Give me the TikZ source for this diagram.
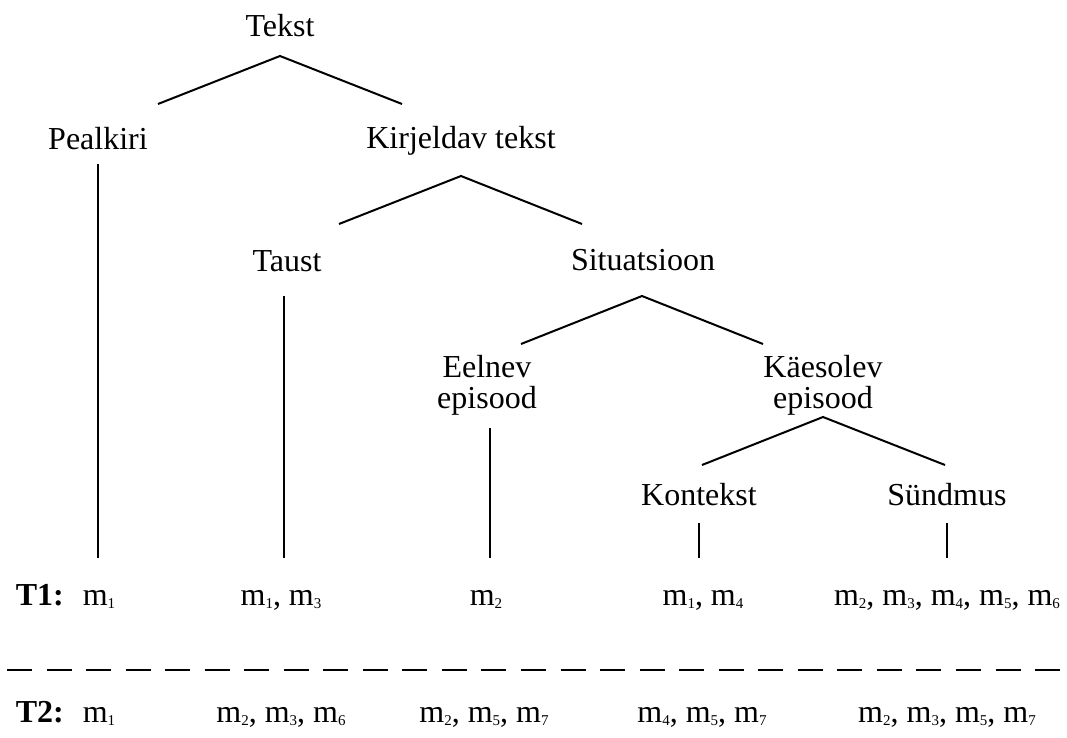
\documentclass[tikz,border=0pt]{standalone}
\usepackage{fontspec}
\setmainfont{Liberation Serif}
\usetikzlibrary{calc}
% m with a small lowered index
\newcommand{\msub}[1]{m\raisebox{-3pt}{\fontsize{15}{15}\selectfont #1}}
\newcommand{\twoline}[2]{\begin{tabular}[t]{@{}c@{}}#1\\#2\end{tabular}}
\begin{document}
\begin{tikzpicture}[x=1pt,y=-1pt,
  lbl/.style={inner sep=0pt, anchor=base, font=\fontsize{32}{30}\selectfont},
  rowlbl/.style={inner sep=0pt, anchor=base east, font=\fontsize{32}{30}\selectfont\bfseries},
  edge/.style={line width=2pt},
  sepline/.style={line width=2.6pt, dash pattern=on 25pt off 14.54pt}]
\useasboundingbox (0,0) rectangle (1067,738);

% tree labels
\node[lbl] (tekst) at (280,37) {Tekst};
\node[lbl] (peal)  at (98,150) {Pealkiri};
\node[lbl] (kirj)  at (461,149) {Kirjeldav tekst};
\node[lbl] (taust) at (287,271) {Taust};
\node[lbl] (sit)   at (643,270) {Situatsioon};
\node[lbl] (eel)   at (487,377) {\twoline{Eelnev}{episood}};
\node[lbl] (kae)   at (823,377) {\twoline{Käesolev}{episood}};
\node[lbl] (kont)  at (699,505) {Kontekst};
\node[lbl] (sund)  at (947,505) {Sündmus};

% row T1
\node[rowlbl] (t1) at (64,605) {T1:};
\node[lbl] (a1) at (99,605)  {\msub{1}};
\node[lbl] (a2) at (281,605) {\msub{1}, \msub{3}};
\node[lbl] (a3) at (486,605) {\msub{2}};
\node[lbl] (a4) at (703,605) {\msub{1}, \msub{4}};
\node[lbl] (a5) at (947,605) {\msub{2}, \msub{3}, \msub{4}, \msub{5}, \msub{6}};

% row T2
\node[rowlbl] (t2) at (64,722) {T2:};
\node[lbl] (b1) at (99,722)  {\msub{1}};
\node[lbl] (b2) at (281,722) {\msub{2}, \msub{3}, \msub{6}};
\node[lbl] (b3) at (484,722) {\msub{2}, \msub{5}, \msub{7}};
\node[lbl] (b4) at (702,722) {\msub{4}, \msub{5}, \msub{7}};
\node[lbl] (b5) at (947,722) {\msub{2}, \msub{3}, \msub{5}, \msub{7}};

% branching edges
\draw[edge] ($(peal.base)+(60,-46)$) -- ($(tekst.base)+(0,19)$) -- ($(kirj.base)+(-59,-45)$);
\draw[edge] ($(taust.base)+(52,-47)$) -- ($(kirj.base)+(0,27)$) -- ($(sit.base)+(-61,-46)$);
\draw[edge] ($(eel.base)+(34,-33)$) -- ($(sit.base)+(-1,26)$) -- ($(kae.base)+(-60,-33)$);
\draw[edge] ($(kont.base)+(3,-40)$) -- ($(kae.base)+(0,40)$) -- ($(sund.base)+(-2,-40)$);

% leaf edges down to row T1
\draw[edge] ($(peal.base)+(0,14)$)  -- ($(peal.base |- a1.base)+(0,-47)$);
\draw[edge] ($(taust.base)+(-3,25)$) -- ($(taust.base |- a2.base)+(-3,-47)$);
\draw[edge] ($(eel.base)+(3,51)$)   -- ($(eel.base |- a3.base)+(3,-47)$);
\draw[edge] ($(kont.base)+(0,18)$)  -- ($(kont.base |- a4.base)+(0,-47)$);
\draw[edge] ($(sund.base)+(0,18)$)  -- ($(sund.base |- a5.base)+(0,-47)$);

% separator between the two rows
\draw[sepline] (7,670) -- (1060,670);
\end{tikzpicture}
\end{document}
